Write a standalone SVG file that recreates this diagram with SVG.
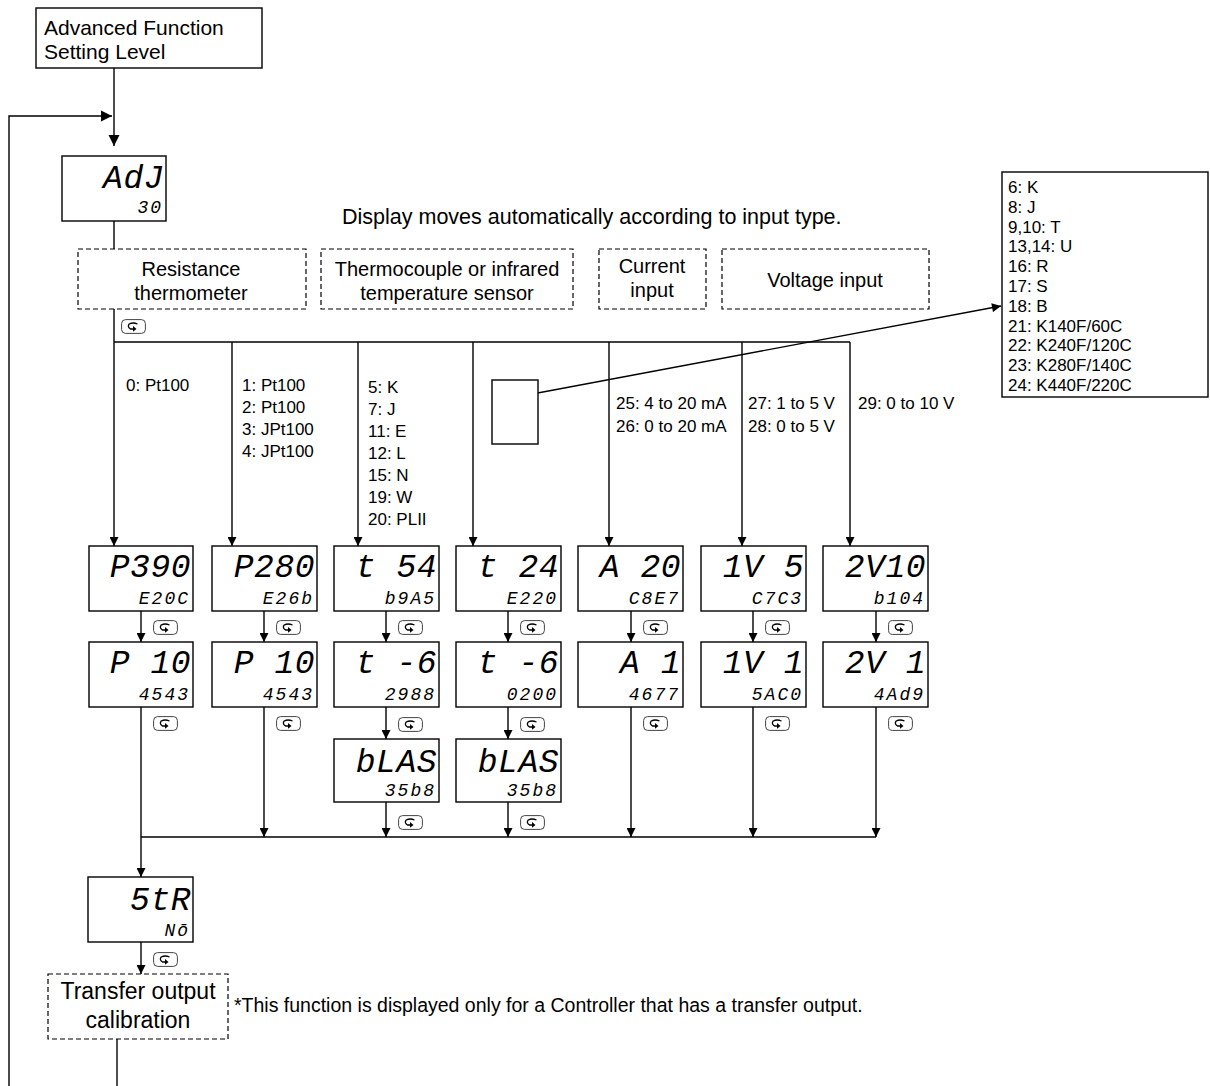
<svg xmlns="http://www.w3.org/2000/svg" width="1210" height="1086" viewBox="0 0 1210 1086">
<style>
  .ln{fill:none;stroke:#000;stroke-width:1.4}
  .box{fill:#fff;stroke:#000;stroke-width:1.4}
  .dash{fill:#fff;stroke:#000;stroke-width:1.2;stroke-dasharray:5 3}
  .t{font-family:"Liberation Sans",Arial,sans-serif;fill:#000}
  .lbl{font-size:17px}
  .big{font-family:"Liberation Mono","DejaVu Sans Mono",monospace;font-style:italic;font-size:33px;letter-spacing:0.5px;text-anchor:end;fill:#000}
  .sm{font-family:"Liberation Mono","DejaVu Sans Mono",monospace;font-style:italic;font-size:18px;letter-spacing:2px;text-anchor:end;fill:#000}
  .arr{marker-end:url(#ah)}
  .arrL{marker-end:url(#ahL)}
</style>
<defs>
  <marker id="ah" viewBox="0 0 10 10" refX="10" refY="5" markerWidth="10" markerHeight="9" markerUnits="userSpaceOnUse" orient="auto">
    <path d="M0,0 L10,5 L0,10 z" fill="#000"/>
  </marker>
  <marker id="ahL" viewBox="0 0 10 10" refX="10" refY="5" markerWidth="11" markerHeight="12" markerUnits="userSpaceOnUse" orient="auto">
    <path d="M0,0 L10,5 L0,10 z" fill="#000"/>
  </marker>
  <symbol id="key" viewBox="0 0 25 15">
    <rect x="0.6" y="0.6" width="23.8" height="13.8" rx="4" fill="#fff" stroke="#444" stroke-width="1"/>
    <path d="M16.5,5 Q12,3 8.2,5 Q6,7.8 9.5,10 L12.5,10" fill="none" stroke="#000" stroke-width="1.3"/>
    <path d="M12,7 L15.5,10 L12,12.8 z" fill="#000"/>
  </symbol>
</defs>

<!-- connectors -->
<g id="connectors">
  <line class="ln arrL" x1="114" y1="68" x2="114" y2="146"/>
  <polyline class="ln arrL" points="9,1086 9,116 112,116"/>
  <line class="ln arr" x1="114" y1="221" x2="114" y2="546"/>
  <line class="ln" x1="114" y1="342" x2="850" y2="342"/>
  <line class="ln arr" x1="232" y1="342" x2="232" y2="546"/>
  <line class="ln arr" x1="358" y1="342" x2="358" y2="546"/>
  <line class="ln arr" x1="473" y1="342" x2="473" y2="546"/>
  <line class="ln arr" x1="609" y1="342" x2="609" y2="546"/>
  <line class="ln arr" x1="742" y1="342" x2="742" y2="546"/>
  <line class="ln arr" x1="850" y1="342" x2="850" y2="546"/>
  <use href="#key" x="121" y="319" width="25" height="15"/>

  <!-- row1 to row2 -->
  <line class="ln arr" x1="141" y1="611" x2="141" y2="642"/>
  <line class="ln arr" x1="264" y1="611" x2="264" y2="642"/>
  <line class="ln arr" x1="386" y1="611" x2="386" y2="642"/>
  <line class="ln arr" x1="508" y1="611" x2="508" y2="642"/>
  <line class="ln arr" x1="631" y1="611" x2="631" y2="642"/>
  <line class="ln arr" x1="753" y1="611" x2="753" y2="642"/>
  <line class="ln arr" x1="876" y1="611" x2="876" y2="642"/>
  <use href="#key" x="153" y="620" width="25" height="15"/>
  <use href="#key" x="276" y="620" width="25" height="15"/>
  <use href="#key" x="398" y="620" width="25" height="15"/>
  <use href="#key" x="520" y="620" width="25" height="15"/>
  <use href="#key" x="643" y="620" width="25" height="15"/>
  <use href="#key" x="765" y="620" width="25" height="15"/>
  <use href="#key" x="888" y="620" width="25" height="15"/>

  <!-- row2 to row3 -->
  <line class="ln arr" x1="386" y1="707" x2="386" y2="739"/>
  <line class="ln arr" x1="508" y1="707" x2="508" y2="739"/>
  <use href="#key" x="398" y="717" width="25" height="15"/>
  <use href="#key" x="520" y="717" width="25" height="15"/>

  <!-- to bottom bus -->
  <line class="ln arr" x1="141" y1="707" x2="141" y2="877"/>
  <line class="ln arr" x1="264" y1="707" x2="264" y2="837"/>
  <line class="ln arr" x1="386" y1="802" x2="386" y2="837"/>
  <line class="ln arr" x1="508" y1="802" x2="508" y2="837"/>
  <line class="ln arr" x1="631" y1="707" x2="631" y2="837"/>
  <line class="ln arr" x1="753" y1="707" x2="753" y2="837"/>
  <line class="ln arr" x1="876" y1="707" x2="876" y2="837"/>
  <line class="ln" x1="141" y1="837" x2="876" y2="837"/>
  <use href="#key" x="153" y="716" width="25" height="15"/>
  <use href="#key" x="276" y="716" width="25" height="15"/>
  <use href="#key" x="643" y="716" width="25" height="15"/>
  <use href="#key" x="765" y="716" width="25" height="15"/>
  <use href="#key" x="888" y="716" width="25" height="15"/>
  <use href="#key" x="398" y="815" width="25" height="15"/>
  <use href="#key" x="520" y="815" width="25" height="15"/>

  <!-- STR to transfer -->
  <line class="ln arr" x1="141" y1="942" x2="141" y2="974"/>
  <use href="#key" x="153" y="952" width="25" height="15"/>
  <line class="ln" x1="117" y1="1039" x2="117" y2="1086"/>

  <!-- pointer to list -->
  <line class="ln arr" x1="527" y1="395" x2="1001" y2="306"/>
</g>

<!-- nodes -->
<g id="n-advanced">
  <rect class="box" x="36" y="8" width="226" height="60"/>
  <text class="t" x="44" y="35" font-size="21">Advanced Function</text>
  <text class="t" x="44" y="59" font-size="21">Setting Level</text>
</g>

<g id="n-adj">
  <rect class="box" x="62" y="156" width="104" height="65"/>
  <text class="big" x="164" y="188">AdJ</text>
  <text class="sm" x="163" y="213">30</text>
</g>

<g id="note-display">
  <text class="t" x="342" y="224" font-size="21.5">Display moves automatically according to input type.</text>
</g>

<g id="g-resistance">
  <rect class="dash" x="78" y="249" width="228" height="60"/>
  <text class="t" x="191" y="276" font-size="20" text-anchor="middle">Resistance</text>
  <text class="t" x="191" y="300" font-size="20" text-anchor="middle">thermometer</text>
</g>
<g id="g-thermocouple">
  <rect class="dash" x="321" y="249" width="252" height="60"/>
  <text class="t" x="447" y="276" font-size="20" text-anchor="middle">Thermocouple or infrared</text>
  <text class="t" x="447" y="300" font-size="20" text-anchor="middle">temperature sensor</text>
</g>
<g id="g-current">
  <rect class="dash" x="599" y="249" width="107" height="60"/>
  <text class="t" x="652" y="273" font-size="20" text-anchor="middle">Current</text>
  <text class="t" x="652" y="297" font-size="20" text-anchor="middle">input</text>
</g>
<g id="g-voltage">
  <rect class="dash" x="722" y="249" width="207" height="60"/>
  <text class="t" x="825" y="287" font-size="20" text-anchor="middle">Voltage input</text>
</g>

<g id="labels" class="t lbl">
  <text x="126" y="391">0: Pt100</text>
  <text x="242" y="391">1: Pt100</text>
  <text x="242" y="413">2: Pt100</text>
  <text x="242" y="435">3: JPt100</text>
  <text x="242" y="457">4: JPt100</text>
  <text x="368" y="393">5: K</text>
  <text x="368" y="415">7: J</text>
  <text x="368" y="437">11: E</text>
  <text x="368" y="459">12: L</text>
  <text x="368" y="481">15: N</text>
  <text x="368" y="503">19: W</text>
  <text x="368" y="525">20: PLII</text>
  <text x="616" y="409">25: 4 to 20 mA</text>
  <text x="616" y="432">26: 0 to 20 mA</text>
  <text x="748" y="409">27: 1 to 5 V</text>
  <text x="748" y="432">28: 0 to 5 V</text>
  <text x="858" y="409">29: 0 to 10 V</text>
</g>

<g id="n-smallbox">
  <rect class="box" x="492" y="380" width="46" height="64"/>
</g>

<g id="n-list">
  <rect class="box" x="1002" y="172" width="206" height="225"/>
  <g class="t lbl">
    <text x="1008" y="193">6: K</text>
    <text x="1008" y="213">8: J</text>
    <text x="1008" y="233">9,10: T</text>
    <text x="1008" y="252">13,14: U</text>
    <text x="1008" y="272">16: R</text>
    <text x="1008" y="292">17: S</text>
    <text x="1008" y="312">18: B</text>
    <text x="1008" y="332">21: K140F/60C</text>
    <text x="1008" y="351">22: K240F/120C</text>
    <text x="1008" y="371">23: K280F/140C</text>
    <text x="1008" y="391">24: K440F/220C</text>
  </g>
</g>

<!-- row 1 displays -->
<g id="d-p390"><rect class="box" x="89" y="546" width="104" height="65"/><text class="big" x="191" y="577">P390</text><text class="sm" x="190" y="604">E20C</text></g>
<g id="d-p280"><rect class="box" x="212" y="546" width="105" height="65"/><text class="big" x="315" y="577">P280</text><text class="sm" x="314" y="604">E26b</text></g>
<g id="d-t54"><rect class="box" x="334" y="546" width="105" height="65"/><text class="big" x="437" y="577">t 54</text><text class="sm" x="436" y="604">b9A5</text></g>
<g id="d-t24"><rect class="box" x="456" y="546" width="105" height="65"/><text class="big" x="559" y="577">t 24</text><text class="sm" x="558" y="604">E220</text></g>
<g id="d-a20"><rect class="box" x="578" y="546" width="105" height="65"/><text class="big" x="681" y="577">A 20</text><text class="sm" x="680" y="604">C8E7</text></g>
<g id="d-1v5"><rect class="box" x="701" y="546" width="105" height="65"/><text class="big" x="804" y="577">1V 5</text><text class="sm" x="803" y="604">C7C3</text></g>
<g id="d-2v10"><rect class="box" x="823" y="546" width="105" height="65"/><text class="big" x="926" y="577">2V10</text><text class="sm" x="925" y="604">b104</text></g>

<!-- row 2 displays -->
<g id="d-p10a"><rect class="box" x="89" y="642" width="104" height="65"/><text class="big" x="191" y="673">P 10</text><text class="sm" x="190" y="700">4543</text></g>
<g id="d-p10b"><rect class="box" x="212" y="642" width="105" height="65"/><text class="big" x="315" y="673">P 10</text><text class="sm" x="314" y="700">4543</text></g>
<g id="d-t-6a"><rect class="box" x="334" y="642" width="105" height="65"/><text class="big" x="437" y="673">t -6</text><text class="sm" x="436" y="700">2988</text></g>
<g id="d-t-6b"><rect class="box" x="456" y="642" width="105" height="65"/><text class="big" x="559" y="673">t -6</text><text class="sm" x="558" y="700">0200</text></g>
<g id="d-a1"><rect class="box" x="578" y="642" width="105" height="65"/><text class="big" x="681" y="673">A  1</text><text class="sm" x="680" y="700">4677</text></g>
<g id="d-1v1"><rect class="box" x="701" y="642" width="105" height="65"/><text class="big" x="804" y="673">1V 1</text><text class="sm" x="803" y="700">5AC0</text></g>
<g id="d-2v1"><rect class="box" x="823" y="642" width="105" height="65"/><text class="big" x="926" y="673">2V 1</text><text class="sm" x="925" y="700">4Ad9</text></g>

<!-- row 3 displays -->
<g id="d-bias-a"><rect class="box" x="334" y="739" width="105" height="63"/><text class="big" x="437" y="772">bLAS</text><text class="sm" x="436" y="796">35b8</text></g>
<g id="d-bias-b"><rect class="box" x="456" y="739" width="105" height="63"/><text class="big" x="559" y="772">bLAS</text><text class="sm" x="558" y="796">35b8</text></g>

<g id="d-str"><rect class="box" x="88" y="877" width="105" height="65"/><text class="big" x="191" y="910">5tR</text><text class="sm" x="190" y="936">Nō</text></g>

<g id="n-transfer">
  <rect class="dash" x="48" y="974" width="180" height="65"/>
  <text class="t" x="138" y="999" font-size="23" text-anchor="middle">Transfer output</text>
  <text class="t" x="138" y="1028" font-size="23" text-anchor="middle">calibration</text>
</g>
<g id="note-transfer">
  <text class="t" x="234" y="1012" font-size="19.5">*This function is displayed only for a Controller that has a transfer output.</text>
</g>
</svg>
